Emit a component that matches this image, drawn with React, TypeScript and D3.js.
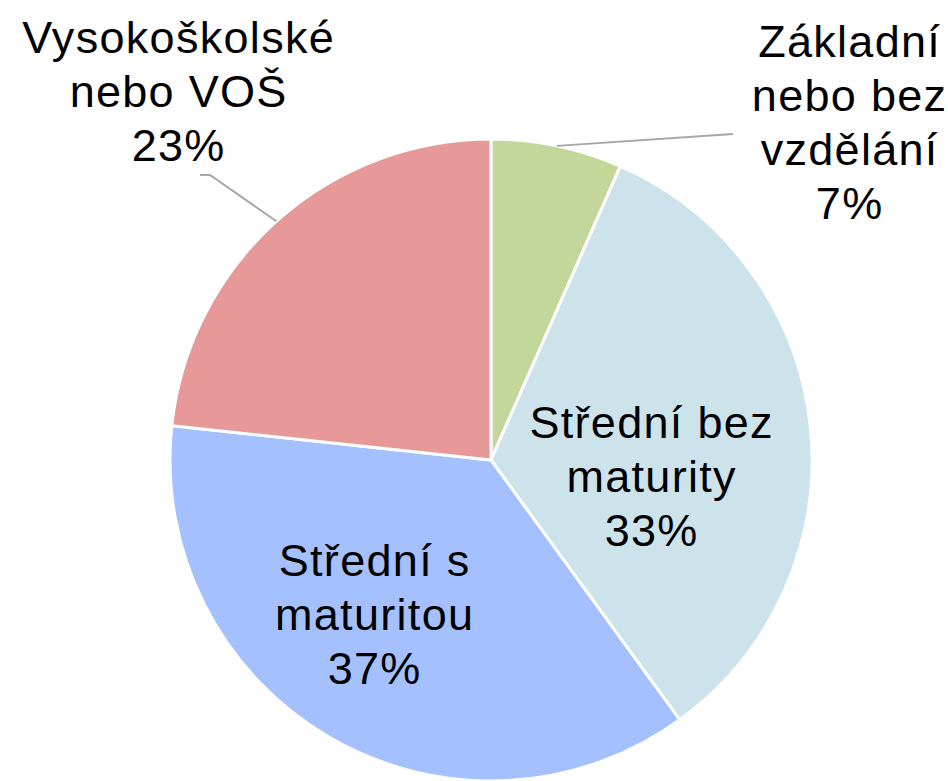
import React from "react";
import * as d3 from "d3";

const categories = [
  "Základní nebo bez vzdělání",
  "Střední bez maturity",
  "Střední s maturitou",
  "Vysokoškolské nebo VOŠ",
];
const values = [6.6, 33.4, 36.7, 23.3];
const labelLines = [
  ["Základní", "nebo bez", "vzdělání"],
  ["Střední bez", "maturity"],
  ["Střední s", "maturitou"],
  ["Vysokoškolské", "nebo VOŠ"],
];
const colors = ["#C4D79B", "#CDE3EC", "#A5C0FF", "#E79898"];

const W = 948;
const H = 781;
const CX = 491;
const CY = 460;
const R = 321;
const FS = 45;
const LS = 1.3;
const LH = 54;

// label layout: [centerX, firstBaselineY], and optional leader elbow
const labelLayout = [
  { x: 849, y: 57, leader: [733, 134] as [number, number], elbow: null as null | [number, number] },
  { x: 651, y: 438, leader: null, elbow: null },
  { x: 374, y: 576, leader: null, elbow: null },
  { x: 178, y: 53, leader: [200, 175] as [number, number], elbow: [210, 175] as [number, number] },
];

export default function App() {
  const pie = d3.pie<number>().sort(null).value((d) => d);
  const arcs = pie(values);
  const arcGen = d3.arc<d3.PieArcDatum<number>>().innerRadius(0).outerRadius(R);
  const total = d3.sum(values);

  return (
    <svg
      width={W}
      height={H}
      style={{ position: "absolute", left: 0, top: 0, background: "#fff" }}
      fontFamily="'Liberation Sans', Arial, sans-serif"
    >
      <g transform={`translate(${CX},${CY})`}>
        {arcs.map((a, i) => (
          <path key={i} d={arcGen(a) || ""} fill={colors[i]} stroke="#fff" strokeWidth={3} />
        ))}
      </g>
      {arcs.map((a, i) => {
        const L = labelLayout[i];
        if (!L.leader) return null;
        const mid = (a.startAngle + a.endAngle) / 2;
        const sx = CX + R * Math.sin(mid);
        const sy = CY - R * Math.cos(mid);
        const pts: [number, number][] = [[sx, sy]];
        if (L.elbow) pts.push(L.elbow);
        pts.push(L.leader);
        return (
          <path
            key={"l" + i}
            d={d3.line()(pts) || ""}
            fill="none"
            stroke="#A6A6A6"
            strokeWidth={2}
          />
        );
      })}
      {arcs.map((a, i) => {
        const L = labelLayout[i];
        const lines = [...labelLines[i], `${Math.round((values[i] / total) * 100)}%`];
        return (
          <text key={"t" + i} textAnchor="middle" fontSize={FS} fill="#000" letterSpacing={LS}>
            {lines.map((ln, j) => (
              <tspan key={j} x={L.x + LS / 2} y={L.y + j * LH}>
                {ln}
              </tspan>
            ))}
          </text>
        );
      })}
    </svg>
  );
}
